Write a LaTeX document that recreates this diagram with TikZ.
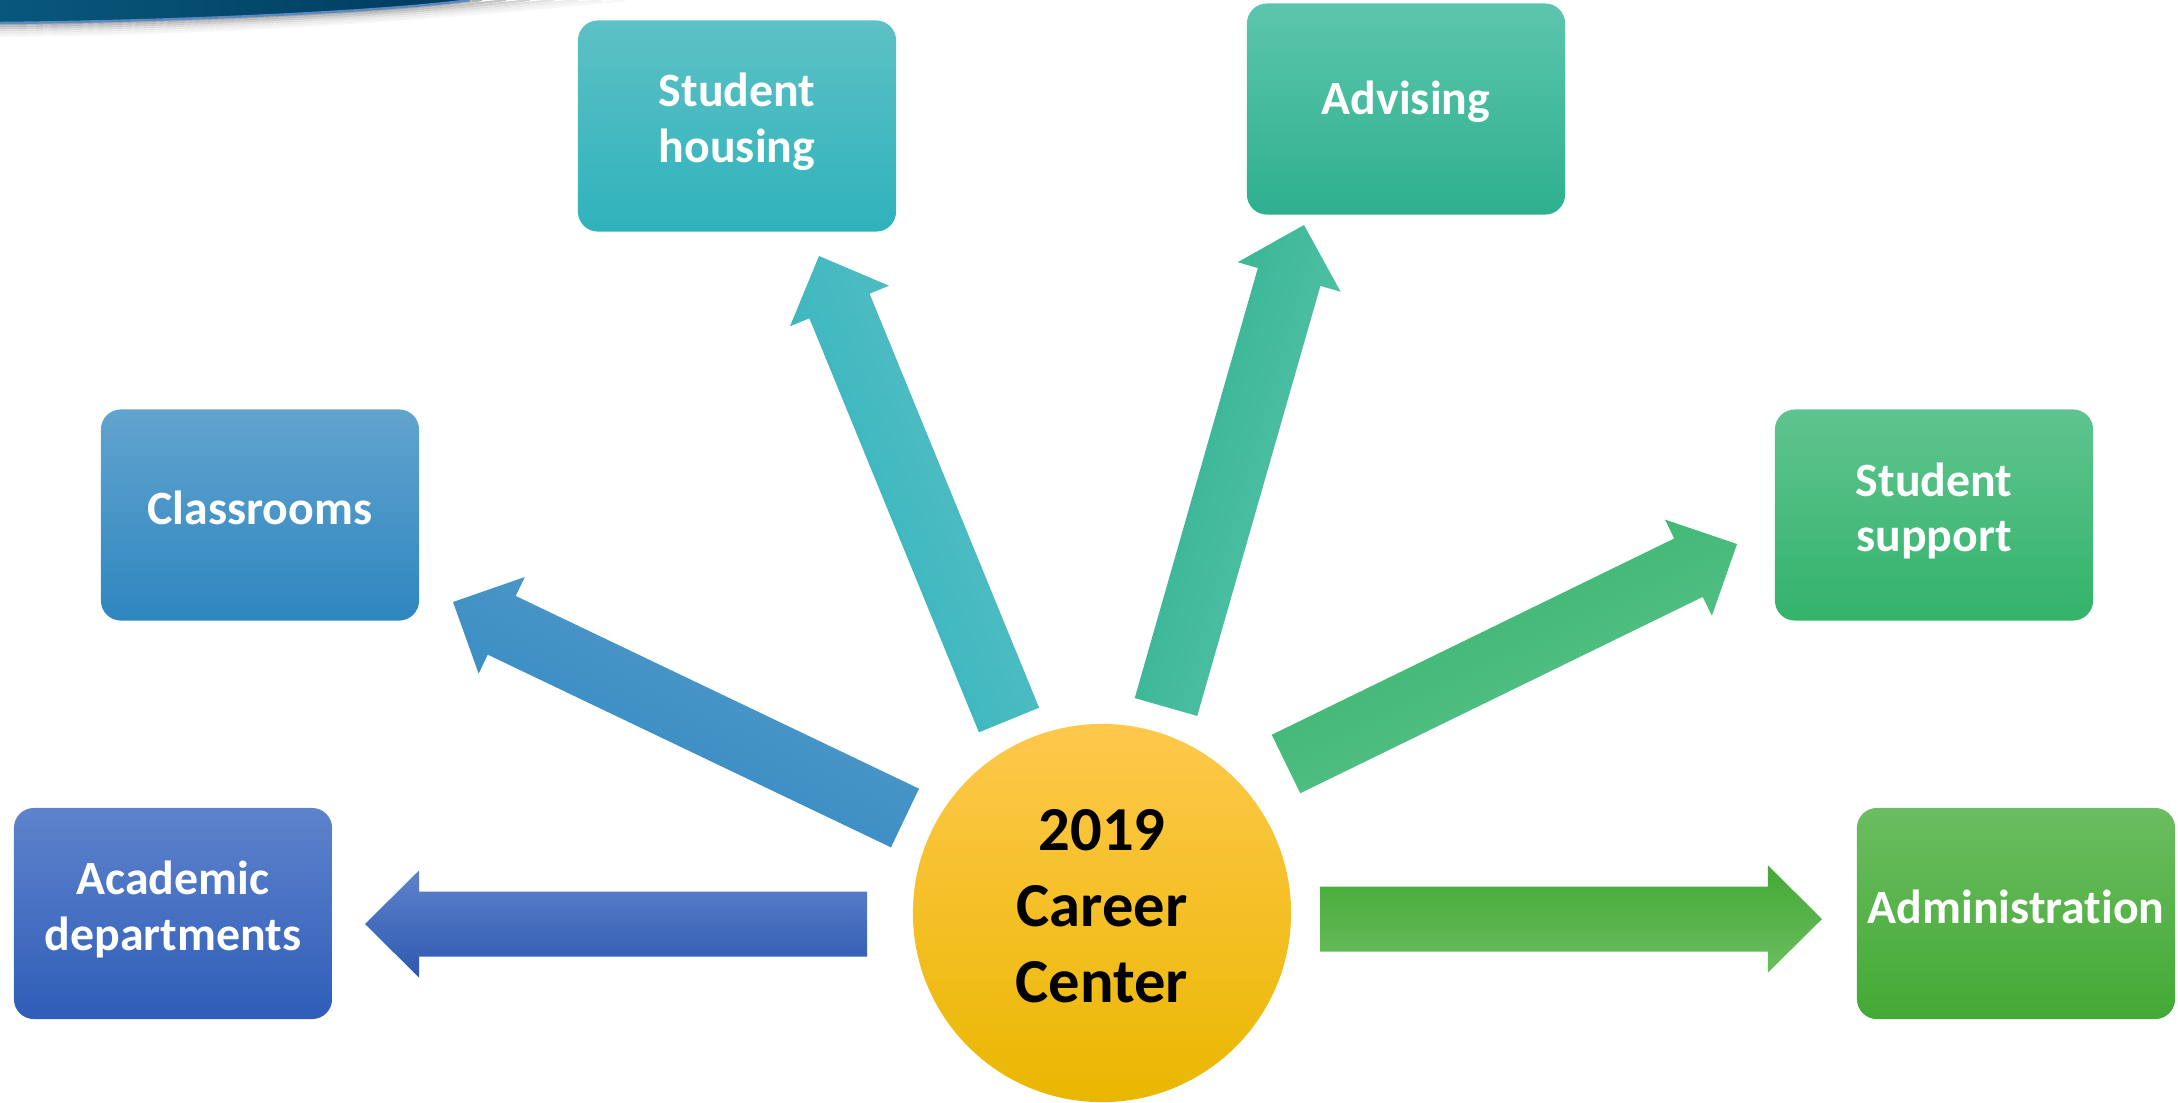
\documentclass[tikz,border=0pt]{standalone}
\usepackage{fontspec}
\setmainfont[Ligatures=NoCommon]{Carlito}
\usepackage{xcolor}
\usetikzlibrary{shapes, arrows, positioning, calc}

\definecolor{bandleft}{HTML}{08587C}
\definecolor{bandright}{HTML}{003B5E}
\definecolor{bandedge}{HTML}{5A8AC0}
\definecolor{acadtop}{HTML}{5E83CC}
\definecolor{acadbot}{HTML}{2F5DB8}
\definecolor{classtop}{HTML}{62A4CF}
\definecolor{classbot}{HTML}{2E86BF}
\definecolor{housetop}{HTML}{5CC1C5}
\definecolor{housebot}{HTML}{2FB2BC}
\definecolor{advtop}{HTML}{5CC6AD}
\definecolor{advbot}{HTML}{2EB08E}
\definecolor{supptop}{HTML}{5FC48F}
\definecolor{suppbot}{HTML}{33B36A}
\definecolor{admintop}{HTML}{6BBD60}
\definecolor{adminbot}{HTML}{43A935}
\definecolor{suntop}{HTML}{FFC84C}
\definecolor{sunmid}{HTML}{FFC60A}
\definecolor{sunbot}{HTML}{E9B700}

\tikzset{
  boxtext/.style={align=center, text=white, yshift=0.07cm,
    font=\bfseries\fontsize{13.6}{15.9}\selectfont},
  box/.style={rectangle, rounded corners=0.2cm, minimum width=3.18cm, minimum height=2.11cm,
    label={[boxtext]center:#1}},
  twobox/.style={box, label={[boxtext, yshift=-0.03cm]center:#1}},
  hubtext/.style={align=center, yshift=0.07cm, font=\bfseries\fontsize{17.8}{21.6}\selectfont},
  hub/.style={circle, minimum size=3.78cm, inner sep=0pt, label={[hubtext]center:#1}}
}

% tail, tip, shading
\newcommand{\fatarrow}[3]{%
  \coordinate (hb) at ($(#2)!0.54cm!(#1)$);
  \shade[#3] ($(#1)!0.325cm!90:(#2)$) -- ($(hb)!0.325cm!90:(#2)$) -- ($(hb)!0.535cm!90:(#2)$)
    -- (#2) -- ($(hb)!0.535cm!-90:(#2)$) -- ($(hb)!0.325cm!-90:(#2)$) -- ($(#1)!0.325cm!-90:(#2)$) -- cycle;
}

\begin{document}
\begin{tikzpicture}[x=0.01cm, y=-0.01cm]
  \useasboundingbox (0,0) rectangle (2178,1102);

  \foreach \d/\o in {1/0.30, 3/0.24, 5/0.18, 7/0.12, 9/0.08, 11/0.05, 13/0.03}
    \draw[black, opacity=\o, line width=0.6pt] (0,23+\d) .. controls (200,21+\d) and (400,10+\d) .. (470+12*\d,0);
  \shade[left color=bandleft, right color=bandright] (0,0) -- (470,0) .. controls (400,10) and (200,21) .. (0,23) -- cycle;
  \draw[bandedge, line width=0.7pt] (0,23) .. controls (200,21) and (400,10) .. (470,0);

  \node[twobox={Academic\\departments}, top color=acadtop, bottom color=acadbot] (acad) at (173,913.5) {};
  \node[box={Classrooms}, top color=classtop, bottom color=classbot] (class) at (260,515) {};
  \node[twobox={Student\\housing}, top color=housetop, bottom color=housebot] (house) at (737,126) {};
  \node[box={Advising}, top color=advtop, bottom color=advbot] (adv) at (1406,109) {};
  \node[twobox={Student\\support}, top color=supptop, bottom color=suppbot] (supp) at (1934,515) {};
  \node[box={Administration}, top color=admintop, bottom color=adminbot] (admin) at (2016,913.5) {};

  \node[hub={2019\\Career\\Center}, top color=suntop, middle color=sunmid, bottom color=sunbot] (hub) at (1102,913) {};

  \coordinate (acadtail) at (867,924);   \coordinate (acadtip) at (365,924);
  \coordinate (classtail) at (905,818);  \coordinate (classtip) at (453,602);
  \coordinate (housetail) at (1009,720); \coordinate (housetip) at (819,256);
  \coordinate (advtail) at (1166,707);   \coordinate (advtip) at (1304,225);
  \coordinate (supptail) at (1286,764);  \coordinate (supptip) at (1737,544);
  \coordinate (admintail) at (1320,919); \coordinate (admintip) at (1822,919);

  \fatarrow{acadtail}{acadtip}{top color=acadtop, bottom color=acadbot!95!black}
  \fatarrow{classtail}{classtip}{top color=classtop!80!classbot, bottom color=classbot, shading angle=-25.6}
  \fatarrow{housetail}{housetip}{top color=housetop, bottom color=housebot, shading angle=-67.7}
  \fatarrow{advtail}{advtip}{top color=advtop, bottom color=advbot, shading angle=-106}
  \fatarrow{supptail}{supptip}{top color=suppbot, bottom color=supptop, shading angle=26}
  \fatarrow{admintail}{admintip}{top color=adminbot, bottom color=admintop}
\end{tikzpicture}
\end{document}
